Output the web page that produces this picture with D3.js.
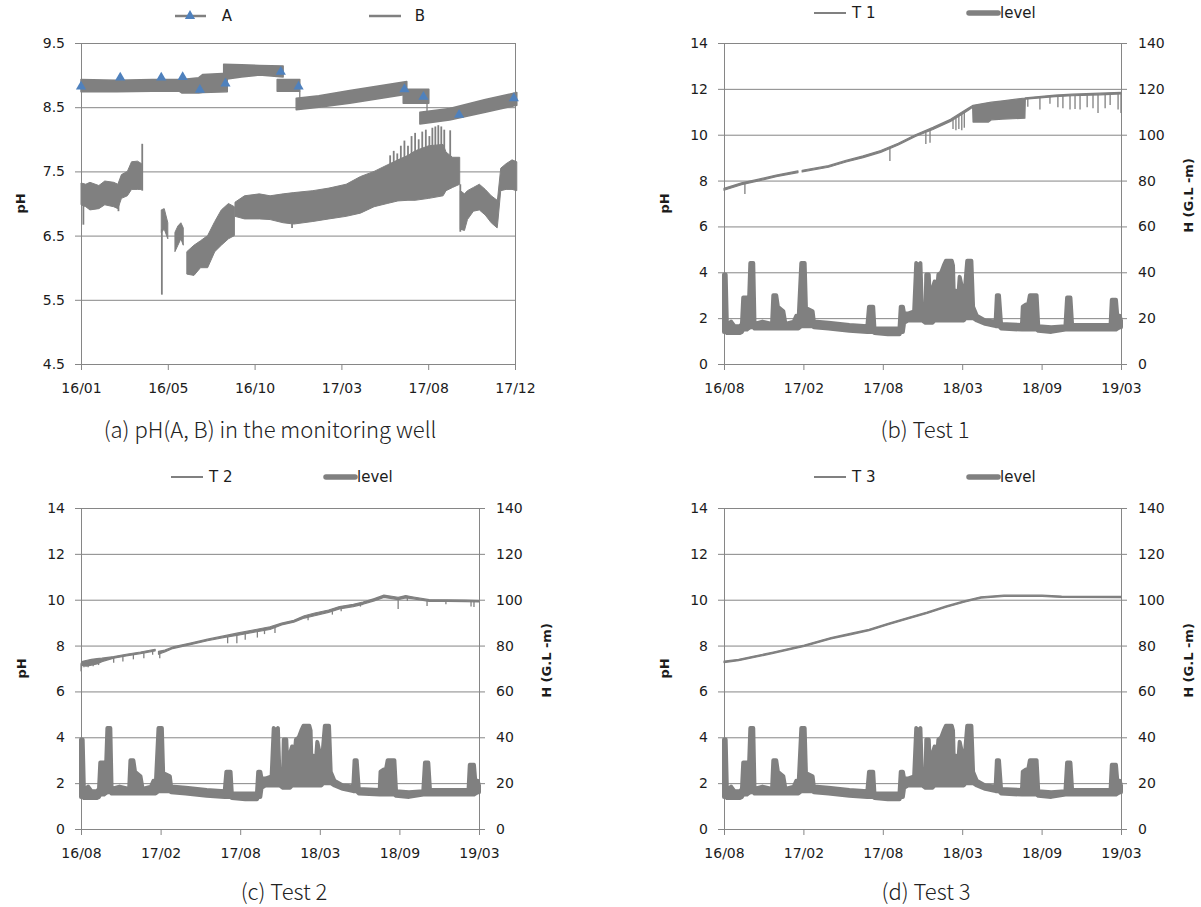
<!DOCTYPE html>
<html><head><meta charset="utf-8">
<script src="https://cdn.jsdelivr.net/npm/d3@7"></script>
<style>body{margin:0;background:#fff}</style>
</head><body>
<script>
// ---------------- Panel (a): pH of A and B in the monitoring well ----------------
// x in days since 2016-01-01
const aTickDays = [0, 146, 292, 438, 584, 730];
const aTickLabels = ["16/01", "16/05", "16/10", "17/03", "17/08", "17/12"];
const aYTicks = [4.5, 5.5, 6.5, 7.5, 8.5, 9.5];

// Series A: noisy band segments, rows [day, low pH, high pH]
const seriesA_bands = [
  [[0, 8.74, 8.93], [60, 8.74, 8.92], [120, 8.75, 8.93], [165, 8.75, 8.93], [170, 8.72, 8.93], [198, 8.72, 8.96], [205, 8.73, 9.01], [246, 8.74, 9.03]],
  [[240, 8.93, 9.17], [270, 8.97, 9.16], [300, 9.0, 9.15], [340, 8.97, 9.14]],
  [[330, 8.75, 8.93], [368, 8.75, 8.93]],
  [[362, 8.46, 8.64], [400, 8.5, 8.68], [452, 8.56, 8.76], [500, 8.63, 8.83], [548, 8.7, 8.9]],
  [[542, 8.56, 8.78], [585, 8.56, 8.78]],
  [[570, 8.24, 8.42], [620, 8.3, 8.48], [680, 8.42, 8.62], [733, 8.53, 8.73]]
];
const seriesA_steps = [[368, 8.75, 8.46], [582, 8.56, 8.26]];
const seriesA_markers = [[0, 8.82], [66, 8.96], [135, 8.96], [171, 8.97], [200, 8.77], [243, 8.87], [336, 9.05], [366, 8.82], [544, 8.78], [576, 8.66], [636, 8.38], [728, 8.64]];

// Series B: noisy band segments [day, low pH, high pH]
const seriesB_bands = [
  [[0, 6.98, 7.32], [8, 6.95, 7.3], [15, 6.9, 7.33], [30, 6.92, 7.28], [40, 6.98, 7.35], [55, 6.95, 7.33], [62, 6.92, 7.3], [68, 7.08, 7.45], [78, 7.12, 7.5], [85, 7.22, 7.65], [95, 7.22, 7.66], [102, 7.22, 7.62]],
  [[135, 6.55, 6.9], [140, 6.6, 6.92], [146, 6.45, 6.7]],
  [[158, 6.25, 6.55], [163, 6.35, 6.65], [168, 6.45, 6.7], [172, 6.35, 6.62]],
  [[178, 5.9, 6.25], [190, 5.88, 6.35], [201, 6.0, 6.42], [213, 6.0, 6.5], [225, 6.25, 6.72], [236, 6.35, 6.9], [248, 6.45, 7.0], [258, 6.5, 6.95]],
  [[259, 6.8, 7.02], [275, 6.76, 7.12], [300, 6.76, 7.15], [318, 6.75, 7.12], [340, 6.7, 7.15], [358, 6.68, 7.17], [390, 6.72, 7.2], [417, 6.76, 7.24], [446, 6.8, 7.3], [470, 6.85, 7.42], [493, 6.95, 7.5], [515, 7.0, 7.6], [533, 7.04, 7.68], [550, 7.05, 7.75], [562, 7.05, 7.82], [585, 7.08, 7.9], [609, 7.12, 7.92], [614, 7.2, 7.8], [625, 7.25, 7.72], [637, 7.3, 7.72]],
  [[638, 6.6, 7.2], [645, 6.58, 7.15], [650, 6.75, 7.2], [660, 6.88, 7.25], [670, 6.9, 7.3], [680, 6.82, 7.22], [690, 6.7, 7.12], [700, 6.62, 7.05], [701, 6.7, 7.1], [706, 7.2, 7.55], [715, 7.22, 7.62], [725, 7.22, 7.68], [733, 7.2, 7.65]]
];
const seriesB_spikes = [[4, 7.0, 6.67], [63, 7.0, 6.88], [103, 7.2, 7.93], [136, 6.6, 5.58], [355, 6.8, 6.62],
  [520, 7.5, 7.75], [526, 7.5, 7.82], [532, 7.55, 7.78], [538, 7.6, 7.9], [544, 7.6, 7.98], [550, 7.65, 7.9], [556, 7.7, 8.05],
  [562, 7.7, 8.1], [568, 7.75, 8.0], [574, 7.75, 8.12], [580, 7.8, 8.15], [586, 7.8, 8.05], [591, 7.8, 8.18], [596, 7.8, 8.2],
  [601, 7.8, 8.22], [606, 7.8, 8.2], [611, 7.8, 8.15], [621, 7.7, 8.14], [638, 7.3, 6.56]];

// ---------------- Panels (b)-(d): tests with groundwater level ----------------
// x in days since 2016-08-15
const testTickDays = [0, 190, 380, 570, 760, 950];
const testTickLabels = ["16/08", "17/02", "17/08", "18/03", "18/09", "19/03"];
const pHTicks = [0, 2, 4, 6, 8, 10, 12, 14];
const hTicks = [0, 20, 40, 60, 80, 100, 120, 140];

// level H (G.L -m): [day, low, high]
const levelBand = [
  [0, 14, 39], [4, 14, 39], [7, 13.5, 16.5], [17, 13.5, 18.5], [25, 13.5, 16.5], [38, 13.5, 16.5], [43, 14, 17.5], [46, 15, 29], [55, 15, 29], [58, 15.5, 17.5],
  [63, 16, 44], [70, 16, 44], [73, 15.5, 17.5], [92, 15.5, 18.5], [115, 15.5, 17.5], [118, 15.5, 30], [125, 15.5, 30], [129, 15.5, 25], [142, 15.5, 23], [147, 15.5, 17.5],
  [167, 15.5, 18.5], [173, 15.5, 21], [178, 15.5, 17.5], [185, 16.5, 44], [193, 16.5, 44], [197, 16.5, 18.5], [201, 16.5, 24], [212, 16.5, 23], [215, 16, 18.5],
  [250, 15.5, 18], [300, 14.5, 17], [343, 14, 16.5], [347, 14, 25], [357, 14, 25], [360, 13.5, 15.5], [392, 13, 15.5], [420, 13, 15.5],
  [423, 14, 25], [428, 14, 25], [431, 18, 22], [440, 19, 22], [455, 19, 23], [460, 19, 44], [466, 19, 43], [470, 19, 44], [474, 19, 22], [482, 18, 20],
  [484, 18, 39], [490, 18, 39], [494, 18, 21], [499, 18, 33], [504, 19, 36], [509, 19, 30], [513, 19, 39], [520, 19, 40], [526, 19, 43], [531, 19, 45],
  [545, 19, 45], [548, 19, 43], [551, 19, 21], [555, 19, 32], [560, 19, 28], [564, 19, 38], [570, 19, 33], [574, 19, 25], [578, 20, 36], [582, 20, 45],
  [592, 20, 45], [596, 20, 25], [605, 19, 21], [625, 17.5, 19], [650, 16.5, 18.5], [653, 16.5, 30], [658, 16.5, 30], [663, 15.5, 17.5], [713, 15, 17],
  [715, 15, 25], [723, 15, 26], [728, 15, 26], [732, 15, 30], [748, 15, 30], [752, 14.5, 16.5], [783, 14, 16], [817, 15, 16.5], [821, 15, 29], [829, 15, 29],
  [833, 15, 17], [883, 15, 17], [925, 15, 17], [928, 15, 28], [938, 15, 28], [942, 15.5, 19], [947, 16, 21], [950, 16, 19]
];

// Test 1 pH: [day, low, high]
const t1Bands = [
  [[0, 7.58, 7.66], [42, 7.82, 7.9], [83, 7.99, 8.06], [125, 8.17, 8.24], [177, 8.35, 8.42]],
  [[187, 8.38, 8.45], [250, 8.58, 8.65], [292, 8.81, 8.88], [333, 9.0, 9.08], [375, 9.23, 9.31], [417, 9.55, 9.63], [458, 9.92, 10.0], [500, 10.23, 10.32],
   [542, 10.58, 10.67], [583, 11.05, 11.14], [595, 11.2, 11.27], [596, 10.55, 11.28], [633, 10.55, 11.4], [640, 10.65, 11.42], [667, 10.68, 11.48], [720, 10.72, 11.6],
   [721, 11.55, 11.61], [792, 11.66, 11.73], [833, 11.7, 11.77], [900, 11.74, 11.81], [950, 11.78, 11.85]]
];
const t1Dips = [[50, 7.85, 7.41], [397, 9.4, 8.85], [483, 10.1, 9.6], [493, 10.2, 9.65], [548, 10.68, 10.25], [555, 10.75, 10.2], [562, 10.85, 10.25],
  [569, 10.95, 10.2], [575, 11.02, 10.3], [727, 11.6, 11.22], [756, 11.64, 11.1], [780, 11.66, 11.35], [799, 11.68, 11.2], [811, 11.7, 11.15],
  [828, 11.71, 11.1], [840, 11.72, 11.12], [852, 11.73, 11.1], [869, 11.74, 11.2], [883, 11.75, 11.15], [895, 11.76, 10.95], [912, 11.77, 11.15],
  [924, 11.78, 11.3], [943, 11.8, 11.1], [950, 11.82, 10.95]];

// Test 2 pH
const t2Bands = [
  [[0, 6.9, 7.2], [2, 7.15, 7.3], [12, 7.1, 7.35], [25, 7.15, 7.4], [38, 7.2, 7.43], [50, 7.3, 7.45], [78, 7.45, 7.52], [108, 7.55, 7.62], [142, 7.65, 7.72], [177, 7.77, 7.84]],
  [[185, 7.62, 7.75], [200, 7.72, 7.8], [219, 7.87, 7.94], [261, 8.04, 8.11], [302, 8.21, 8.28], [343, 8.36, 8.43], [375, 8.45, 8.55], [417, 8.6, 8.7],
   [451, 8.7, 8.82], [479, 8.9, 8.98], [508, 9.02, 9.1], [533, 9.2, 9.3], [558, 9.3, 9.42], [591, 9.45, 9.55], [617, 9.6, 9.7], [650, 9.7, 9.8],
   [673, 9.8, 9.9], [700, 9.95, 10.05], [723, 10.1, 10.2], [742, 10.05, 10.15], [757, 10.0, 10.1], [775, 10.08, 10.18], [790, 10.05, 10.13],
   [831, 9.93, 10.0], [875, 9.93, 9.99], [917, 9.92, 9.98], [950, 9.9, 9.96]]
];
const t2Dips = [[7, 7.3, 7.05], [17, 7.3, 7.05], [29, 7.35, 7.1], [42, 7.4, 7.15], [78, 7.5, 7.25], [100, 7.58, 7.3], [125, 7.65, 7.4], [150, 7.7, 7.45],
  [171, 7.8, 7.6], [188, 7.72, 7.45], [350, 8.4, 8.1], [372, 8.5, 8.1], [392, 8.55, 8.25], [421, 8.65, 8.35], [438, 8.75, 8.5], [463, 8.82, 8.55],
  [542, 9.25, 9.1], [600, 9.5, 9.35], [621, 9.65, 9.5], [667, 9.85, 9.7], [757, 10.05, 9.6], [779, 10.15, 9.95], [826, 10.0, 9.73], [871, 9.98, 9.8],
  [931, 9.95, 9.7], [938, 9.95, 9.68]];

// Test 3 pH
const t3Bands = [
  [[0, 7.26, 7.32], [35, 7.34, 7.4], [72, 7.48, 7.54], [118, 7.66, 7.72], [192, 7.96, 8.02], [256, 8.29, 8.35], [302, 8.47, 8.53], [347, 8.65, 8.71],
   [393, 8.91, 8.97], [440, 9.16, 9.22], [486, 9.4, 9.46], [532, 9.67, 9.73], [577, 9.9, 9.96], [615, 10.07, 10.13], [670, 10.14, 10.2], [761, 10.14, 10.2],
   [808, 10.1, 10.16], [950, 10.09, 10.15]]
];

// ---------------- drawing ----------------
const W = 1201, H = 907;
const GRID = "#868686", INK = "#808080", TEXT = "#1c1c1c", BLUE = "#4F81BD";
const TICK_FONT = "'DejaVu Sans', sans-serif";
const CAP_FONT = "'Noto Sans CJK KR', 'Noto Sans', sans-serif";

const svg = d3.select("body").append("svg").attr("width", W).attr("height", H);
svg.append("rect").attr("width", W).attr("height", H).attr("fill", "#fff");

function styleAxis(sel) {
  sel.selectAll("path.domain").attr("stroke", GRID);
  sel.selectAll(".tick line").attr("stroke", GRID);
  sel.selectAll("text").attr("font-family", TICK_FONT).attr("font-size", 14).attr("fill", TEXT);
}

function panel(cfg) {
  const g = svg.append("g");
  const x = d3.scaleLinear().domain(cfg.xDomain).range([cfg.left, cfg.right]);
  const y = d3.scaleLinear().domain(cfg.yDomain).range([cfg.bottom, cfg.top]);
  const y2 = cfg.y2Domain ? d3.scaleLinear().domain(cfg.y2Domain).range([cfg.bottom, cfg.top]) : null;

  // gridlines
  g.append("g").attr("transform", `translate(${cfg.left},0)`)
    .call(d3.axisLeft(y).tickValues(cfg.yTicks).tickSize(-(cfg.right - cfg.left)).tickFormat(""))
    .call(s => { s.select(".domain").remove(); s.selectAll(".tick line").attr("stroke", GRID); });

  // left axis
  g.append("g").attr("transform", `translate(${cfg.left},0)`)
    .call(d3.axisLeft(y).tickValues(cfg.yTicks).tickSize(6).tickSizeOuter(0).tickPadding(10).tickFormat(cfg.yFormat))
    .call(styleAxis);

  if (y2) {
    g.append("g").attr("transform", `translate(${cfg.right},0)`)
      .call(d3.axisRight(y2).tickValues(cfg.y2Ticks).tickSize(6).tickSizeOuter(0).tickPadding(11).tickFormat(d3.format("d")))
      .call(styleAxis);
  } else {
    g.append("line").attr("x1", cfg.right + 0.5).attr("x2", cfg.right + 0.5)
      .attr("y1", cfg.top).attr("y2", cfg.bottom).attr("stroke", GRID);
  }

  // bottom axis
  g.append("g").attr("transform", `translate(0,${cfg.bottom})`)
    .call(d3.axisBottom(x).tickValues(cfg.xTicks).tickSize(6).tickSizeOuter(0).tickPadding(13)
      .tickFormat((d, i) => cfg.xLabels[i]))
    .call(styleAxis);

  // axis titles
  g.append("text").attr("transform", `translate(${cfg.yTitleX},${(cfg.top + cfg.bottom) / 2}) rotate(-90)`)
    .attr("text-anchor", "middle").attr("dy", "0.35em")
    .attr("font-family", TICK_FONT).attr("font-weight", "bold").attr("font-size", 13).attr("fill", TEXT).text("pH");
  if (y2) {
    g.append("text").attr("transform", `translate(${cfg.y2TitleX},${(cfg.top + cfg.bottom) / 2 - 8}) rotate(-90)`)
      .attr("text-anchor", "middle").attr("dy", "0.35em")
      .attr("font-family", TICK_FONT).attr("font-weight", "bold").attr("font-size", 13).attr("fill", TEXT).text("H (G.L -m)");
  }

  // caption
  g.append("text").attr("x", cfg.capX).attr("y", cfg.capY).attr("text-anchor", "middle").attr("dy", "0.35em")
    .attr("font-family", CAP_FONT).attr("font-weight", 300).attr("font-size", 22).attr("fill", "#222").text(cfg.caption);

  const plot = g.append("g");
  return { g, plot, x, y, y2 };
}

function drawBands(g, x, y, segs, width) {
  const area = d3.area().x(d => x(d[0])).y0(d => y(d[1])).y1(d => y(d[2]));
  g.append("g").selectAll("path").data(segs).join("path")
    .attr("d", area).attr("fill", INK).attr("stroke", INK)
    .attr("stroke-width", width).attr("stroke-linejoin", "round");
}
function drawSpikes(g, x, y, rows, width) {
  g.append("g").selectAll("line").data(rows).join("line")
    .attr("x1", d => x(d[0])).attr("x2", d => x(d[0]))
    .attr("y1", d => y(d[1])).attr("y2", d => y(d[2]))
    .attr("stroke", INK).attr("stroke-width", width);
}
function legendLine(g, x1, x2, yy, w, label, tx) {
  g.append("line").attr("x1", x1).attr("x2", x2).attr("y1", yy).attr("y2", yy)
    .attr("stroke", INK).attr("stroke-width", w).attr("stroke-linecap", w > 3 ? "round" : "butt");
  g.append("text").attr("x", tx).attr("y", yy).attr("dy", "0.35em")
    .attr("font-family", TICK_FONT).attr("font-size", 15).attr("fill", TEXT).text(label);
}

// ----- panel (a)
const pa = panel({
  left: 81, right: 515, top: 43, bottom: 364,
  xDomain: [0, 730], xTicks: aTickDays, xLabels: aTickLabels,
  yDomain: [4.5, 9.5], yTicks: aYTicks, yFormat: d3.format(".1f"),
  yTitleX: 20, capX: 270, capY: 430, caption: "(a) pH(A, B) in the monitoring well"
});
drawBands(pa.plot, pa.x, pa.y, seriesB_bands, 1);
drawSpikes(pa.plot, pa.x, pa.y, seriesB_spikes, 1.8);
drawBands(pa.plot, pa.x, pa.y, seriesA_bands, 1.5);
drawSpikes(pa.plot, pa.x, pa.y, seriesA_steps, 1.3);
pa.plot.append("g").selectAll("path").data(seriesA_markers).join("path")
  .attr("transform", d => `translate(${pa.x(d[0])},${pa.y(d[1])})`)
  .attr("d", d3.symbol(d3.symbolTriangle, 45)).attr("fill", BLUE);
// legend (a)
legendLine(pa.g, 175, 206, 16, 2.5, "", 0);
pa.g.append("path").attr("transform", "translate(190,16)").attr("d", d3.symbol(d3.symbolTriangle, 45)).attr("fill", BLUE);
pa.g.append("text").attr("x", 227).attr("y", 16).attr("dy", "0.35em").attr("text-anchor", "middle")
  .attr("font-family", TICK_FONT).attr("font-size", 15).attr("fill", TEXT).text("A");
legendLine(pa.g, 369, 401, 16, 2.5, "", 0);
pa.g.append("text").attr("x", 420).attr("y", 16).attr("dy", "0.35em").attr("text-anchor", "middle")
  .attr("font-family", TICK_FONT).attr("font-size", 15).attr("fill", TEXT).text("B");

// ----- panels (b)-(d)
function testPanel(left, right, top, bottom, capX, capY, caption, tName, bands, dips, legendY) {
  const p = panel({
    left, right, top, bottom,
    xDomain: [0, 950], xTicks: testTickDays, xLabels: testTickLabels,
    yDomain: [0, 14], yTicks: pHTicks, yFormat: d3.format("d"),
    y2Domain: [0, 140], y2Ticks: hTicks,
    yTitleX: left - 60, y2TitleX: right + 67, capX, capY, caption
  });
  drawBands(p.plot, p.x, p.y2, [levelBand], 4);
  drawBands(p.plot, p.x, p.y, bands, 1.2);
  if (dips) drawSpikes(p.plot, p.x, p.y, dips, 1.3);
  legendLine(p.g, left + 90, left + 122, legendY, 2, tName, left + 128);
  legendLine(p.g, left + 245, left + 274, legendY, 5.5, "level", left + 276);
  return p;
}
testPanel(724, 1121, 43, 364, 925, 430, "(b) Test 1", "T 1", t1Bands, t1Dips, 13);
testPanel(81, 479, 508, 829, 284, 892, "(c) Test 2", "T 2", t2Bands, t2Dips, 477);
testPanel(724, 1121, 508, 829, 926, 892, "(d) Test 3", "T 3", t3Bands, null, 477);
</script>
</body></html>
